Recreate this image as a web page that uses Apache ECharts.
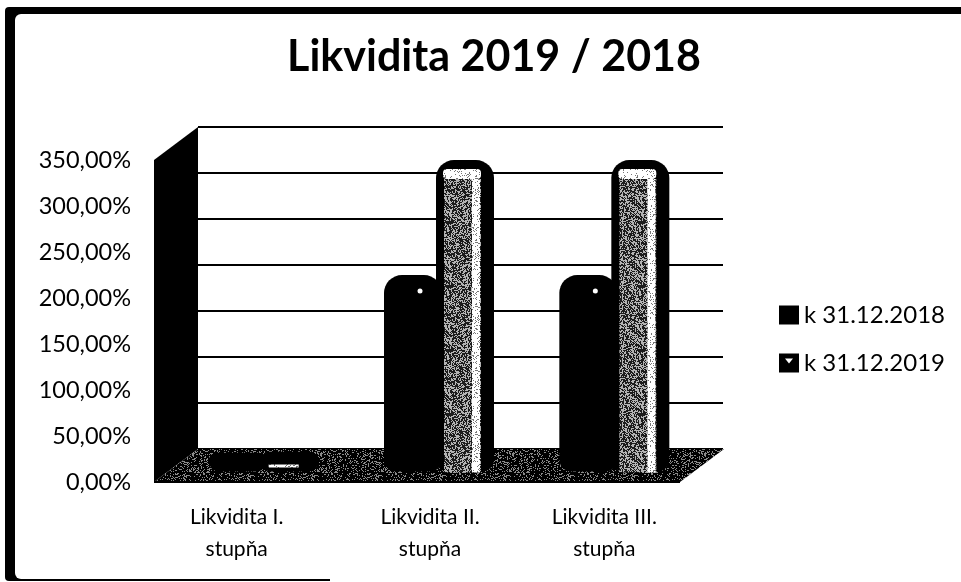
<!DOCTYPE html>
<html>
<head>
<meta charset="utf-8">
<title>Likvidita 2019 / 2018</title>
<style>
  html, body { margin: 0; padding: 0; background: #fff; }
  #chart { width: 961px; height: 582px; }
</style>
<script src="https://cdn.jsdelivr.net/npm/echarts@6/dist/echarts.min.js"></script>
</head>
<body>
<div id="chart"></div>
<script>
const categories = ['Likvidita I.\nstupňa', 'Likvidita II.\nstupňa', 'Likvidita III.\nstupňa']
const seriesNames = ['k 31.12.2018', 'k 31.12.2019']
const values2018 = [2, 195, 195]
const values2019 = [3, 320, 320]
const chartTitle = 'Likvidita 2019 / 2018'

const fontFamily = 'Lato, "Open Sans", sans-serif'
// 3d look: offset of the back wall from the front plane, bars stand half way
const depthX = 44
const depthY = 33
const barWidth = 58
const barShift = 26

// scan-like speckle, a fixed hash so every run looks the same
function speckle(dark, light, amount) {
  const size = 64
  const canvas = document.createElement('canvas')
  canvas.width = canvas.height = size
  const ctx = canvas.getContext('2d')
  for (let y = 0; y < size; y++) {
    for (let x = 0; x < size; x++) {
      const h = Math.abs(Math.sin(x * 12.9898 + y * 78.233) * 43758.5453) % 1
      ctx.fillStyle = h < amount ? light : dark
      ctx.fillRect(x, y, 1, 1)
    }
  }
  return { image: canvas, repeat: 'repeat' }
}
const floorFill = speckle('#000', '#8a8a8a', 0.22)
const bodyFill = speckle('#1c1c1c', '#b4b4b4', 0.42)
const glowFill = speckle('#777', '#fff', 0.85)

function renderFrame3d(params) {
  const g = params.coordSys
  const bottom = g.y + g.height
  return {
    type: 'group',
    children: [
      {
        type: 'polygon',
        shape: { points: [[g.x, g.y], [g.x + depthX, g.y - depthY], [g.x + depthX, bottom - depthY], [g.x, bottom]] },
        style: { fill: '#000' }
      },
      {
        type: 'polygon',
        shape: { points: [[g.x, bottom], [g.x + depthX, bottom - depthY], [g.x + g.width + depthX, bottom - depthY], [g.x + g.width, bottom]] },
        style: { fill: floorFill }
      },
      {
        type: 'rect',
        shape: { x: g.x, y: bottom - 1, width: g.width, height: 2 },
        style: { fill: '#000' }
      }
    ]
  }
}

function renderCylinder(params, api) {
  const textured = params.seriesIndex === 2
  const top = api.coord([api.value(0), api.value(1)])
  const base = api.coord([api.value(0), 0])
  const cx = top[0] + depthX / 2 + (textured ? barShift : -barShift)
  const left = cx - barWidth / 2
  const topY = top[1] - depthY / 2
  const baseY = base[1] - depthY / 2
  const radius = Math.min(18, (baseY - topY + 17) / 2)
  const children = [{
    type: 'rect',
    shape: { x: left, y: topY - 11, width: barWidth, height: baseY - topY + 17, r: [radius, radius, 12, 12] },
    style: { fill: '#000' }
  }]
  const tall = baseY - topY > 20
  if (textured && tall) {
    children.push(
      { type: 'rect', shape: { x: left + 8, y: topY + 8, width: 37, height: baseY - topY - 1 }, style: { fill: bodyFill } },
      { type: 'rect', shape: { x: left + 36, y: topY + 8, width: 8, height: baseY - topY - 1 }, style: { fill: glowFill } },
      { type: 'rect', shape: { x: left + 7, y: topY - 2, width: 38, height: 10, r: 4 }, style: { fill: glowFill } }
    )
  } else if (textured) {
    children.push({ type: 'rect', shape: { x: left + 8, y: baseY - 1, width: 30, height: 3 }, style: { fill: glowFill } })
  } else if (tall) {
    children.push({ type: 'circle', shape: { cx: cx + 7, cy: topY + 5, r: 2.5 }, style: { fill: '#fff' } })
  }
  return { type: 'group', children }
}

// the reference labels do not sit exactly under their bands
function labelStyle(padding) {
  return { fontFamily, fontSize: 21, lineHeight: 32, color: '#000', padding }
}

const chart = echarts.init(document.getElementById('chart'), null, { renderer: 'canvas' })
chart.setOption({
  animation: false,
  backgroundColor: '#fff',
  title: {
    text: chartTitle,
    left: 489,
    top: 31,
    textAlign: 'center',
    textStyle: { fontFamily, fontSize: 43, fontWeight: 'bold', color: '#000' }
  },
  legend: {
    orient: 'vertical',
    left: 779,
    top: 303,
    padding: 0,
    itemWidth: 20,
    itemHeight: 19,
    itemGap: 24,
    textStyle: { fontFamily, fontSize: 24, color: '#000' },
    data: [
      { name: seriesNames[0], icon: 'rect' },
      { name: seriesNames[1], icon: 'path://M0 0H20V19H0Z M6 5L10 10L14 5Z' }
    ]
  },
  grid: [
    { left: 154, right: 281, top: 160, bottom: 100 },
    { left: 198, right: 238, top: 127, bottom: 133 }
  ],
  xAxis: [
    {
      type: 'category',
      gridIndex: 0,
      data: categories,
      axisLine: { show: false },
      axisTick: { show: false },
      axisLabel: {
        interval: 0,
        margin: 19,
        formatter: function(value, index) {
          return value.split('\n').map(line => '{c' + index + '|' + line + '}').join('\n')
        },
        rich: {
          c0: labelStyle([0, 10, 0, 0]),
          c1: labelStyle([0, 0, 0, 26]),
          c2: labelStyle([0, 0, 0, 24])
        }
      }
    },
    {
      type: 'category',
      gridIndex: 1,
      data: categories,
      axisLine: { show: false },
      axisTick: { show: false },
      axisLabel: { show: false }
    }
  ],
  yAxis: [
    {
      type: 'value',
      gridIndex: 0,
      min: 0,
      max: 350,
      interval: 50,
      axisLine: { show: false },
      axisTick: { show: false },
      splitLine: { show: false },
      axisLabel: {
        margin: 23,
        color: '#000',
        fontFamily,
        fontSize: 23.5,
        formatter: function(v) {
          return v.toFixed(2).replace('.', ',') + '%'
        }
      }
    },
    {
      type: 'value',
      gridIndex: 1,
      min: 0,
      max: 350,
      interval: 50,
      axisLine: { show: false },
      axisTick: { show: false },
      axisLabel: { show: false },
      splitLine: { show: true, lineStyle: { color: '#000', width: 2 } }
    }
  ],
  series: [
    {
      type: 'custom',
      name: 'frame',
      xAxisIndex: 0,
      yAxisIndex: 0,
      data: [[0, 0]],
      silent: true,
      z: 1,
      renderItem: renderFrame3d
    },
    {
      type: 'custom',
      name: seriesNames[0],
      xAxisIndex: 0,
      yAxisIndex: 0,
      itemStyle: { color: '#000' },
      data: values2018.map((v, i) => [i, v]),
      encode: { x: 0, y: 1 },
      z: 2,
      renderItem: renderCylinder
    },
    {
      type: 'custom',
      name: seriesNames[1],
      xAxisIndex: 0,
      yAxisIndex: 0,
      itemStyle: { color: '#000' },
      data: values2019.map((v, i) => [i, v]),
      encode: { x: 0, y: 1 },
      z: 3,
      renderItem: renderCylinder
    }
  ],
  // scanned page border: heavy left and top, hairline at the bottom
  graphic: [
    { type: 'rect', silent: true, z: -1, shape: { x: 5, y: 7, width: 970, height: 574, r: 4 }, style: { fill: '#000' } },
    { type: 'rect', silent: true, z: -1, shape: { x: 15, y: 14, width: 970, height: 565, r: 6 }, style: { fill: '#fff' } },
    { type: 'rect', silent: true, z: -1, shape: { x: 330, y: 579, width: 640, height: 3 }, style: { fill: '#fff' } }
  ]
})
</script>
</body>
</html>
